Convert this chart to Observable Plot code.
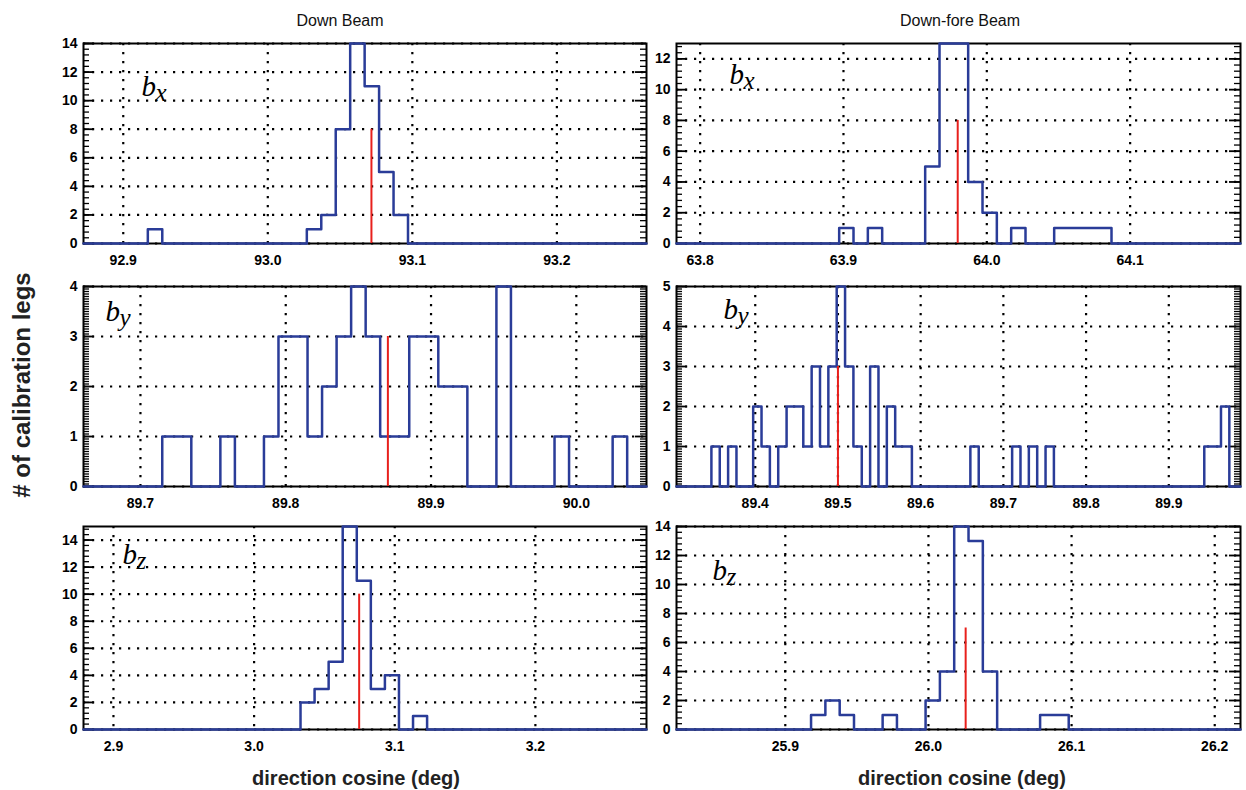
<!DOCTYPE html>
<html><head><meta charset="utf-8">
<script src="https://cdn.jsdelivr.net/npm/d3@7"></script>
<script src="https://cdn.jsdelivr.net/npm/@observablehq/plot@0.6"></script>
<style>
html,body{margin:0;padding:0;background:#fff;overflow:hidden;}
#chart{position:relative;width:1246px;height:790px;overflow:hidden;background:#fff;}
#chart svg.panel{position:absolute;}
#overlay{position:absolute;left:0;top:0;}
</style></head><body><div id="chart"></div>
<script>
// ---------- data (panel order: Down bx, Down-fore bx, Down by, Down-fore by, Down bz, Down-fore bz)
const beamTitles = ["Down Beam", "Down-fore Beam"];
const componentNames = ["x", "y", "z"];
const axisTitleX = "direction cosine (deg)";
const axisTitleY = "# of calibration legs";

const xRanges = [[92.8725, 93.262], [63.7835, 64.177], [89.6608, 90.0483], [89.3048, 89.9867], [2.8787, 3.2790], [25.824, 26.218]];
const xTickValues = [
  [92.9, 93.0, 93.1, 93.2],
  [63.8, 63.9, 64.0, 64.1],
  [89.7, 89.8, 89.9, 90.0],
  [89.4, 89.5, 89.6, 89.7, 89.8, 89.9],
  [2.9, 3.0, 3.1, 3.2],
  [25.9, 26.0, 26.1, 26.2]
];
const yMaxima = [14, 13, 4, 5, 15, 14];
const yMajorSteps = [2, 2, 1, 1, 2, 2];
const yMinorSteps = [0.4, 0.4, 0.05, 0.0625, 0.4, 0.4];

const firstBinEdges = [92.917, 63.897, 89.715, 89.347, 3.033, 25.918];
const binWidths = [0.01, 0.01, 0.01, 0.0101, 0.01, 0.01];

const countsDownX = [1,0,0,0,0,0,0,0,0,0,0,1,2,8,14,11,5,2];
const countsForeX = [1,0,1,0,0,0,5,13,13,4,2,0,1,0,0,1,1,1,1];
const countsDownY = [1,1,0,0,1,0,0,1,3,3,1,2,3,4,3,1,1,3,3,2,2,0,0,4,0,0,0,1,0,0,0,1];
const countsForeY = [1,0,1,0,0,2,1,0,1,2,2,1,3,1,3,5,3,1,0,3,0,2,1,1,
                     0,0,0,0,0,0,0,1,0,0,0,0,1,0,1,0,1,
                     0,0,0,0,0,0,0,0,0,0,0,0,0,0,0,0,0,0,1,1,2];
const countsDownZ = [2,3,5,15,11,3,4,0,1];
const countsForeZ = [1,2,1,0,0,1,0,0,2,4,14,13,4,0,0,0,1,1];
const panelCounts = [countsDownX, countsForeX, countsDownY, countsForeY, countsDownZ, countsForeZ];

const meanPositions = [93.0717, 63.9797, 89.8703, 89.5, 3.0747, 26.026];
const meanHeights = [8, 8, 3, 3, 10, 7];

// ---------- layout / style
const blue = "#2a3c98", red = "#e8201c";
const colLeft = [83, 676], colWidth = [563, 564];
const rowTop = [43, 286, 526], rowHeight = [200, 200, 203];
const M = {left: 44, right: 14, top: 14, bottom: 34};
const labelOffsets = [[58, 52], [53, 40], [22, 34], [47, 32], [39, 37], [36, 53]];

const chart = document.getElementById("chart");

panelCounts.forEach((counts, i) => {
  const col = i % 2, row = Math.floor(i / 2);
  const W = colWidth[col], H = rowHeight[row];
  const dom = xRanges[i];
  const span = dom[1] - dom[0];
  const first = firstBinEdges[i], bw = binWidths[i];
  const step = [{x: dom[0], y: 0}]
    .concat(counts.map((c, k) => ({x: first + k * bw, y: c})))
    .concat([{x: first + counts.length * bw, y: 0}, {x: dom[1], y: 0}]);
  const yMajor = d3.range(0, yMaxima[i] + 1e-9, yMajorSteps[i]);
  const yMinor = d3.range(0, yMaxima[i] + 1e-9, yMinorSteps[i]);
  const [ldx, ldy] = labelOffsets[i];
  const tickLen = (px) => span * px / W;
  const svg = Plot.plot({
    width: W + M.left + M.right,
    height: H + M.top + M.bottom,
    marginLeft: M.left, marginRight: M.right, marginTop: M.top, marginBottom: M.bottom,
    style: {fontFamily: "'Liberation Sans', Arial, sans-serif", fontSize: "14px", fontWeight: "bold", color: "#000", background: "transparent", overflow: "visible"},
    x: {domain: dom, label: null},
    y: {domain: [0, yMaxima[i]], label: null},
    marks: [
      Plot.ruleX(xTickValues[i], {stroke: "#000", strokeWidth: 2.2, strokeDasharray: "2.2,6.8"}),
      Plot.ruleY(yMajor, {stroke: "#000", strokeWidth: 2.2, strokeDasharray: "2.2,6.8"}),
      Plot.ruleY(yMinor, {y: d => d, x1: dom[0], x2: dom[0] + tickLen(6), stroke: "#000", strokeWidth: 1.3}),
      Plot.ruleY(yMinor, {y: d => d, x1: dom[1] - tickLen(6), x2: dom[1], stroke: "#000", strokeWidth: 1.3}),
      Plot.ruleY(yMajor, {y: d => d, x1: dom[0], x2: dom[0] + tickLen(11), stroke: "#000", strokeWidth: 1.8}),
      Plot.ruleY(yMajor, {y: d => d, x1: dom[1] - tickLen(11), x2: dom[1], stroke: "#000", strokeWidth: 1.8}),
      Plot.frame({stroke: "#000", strokeWidth: 2}),
      Plot.line(step, {x: "x", y: "y", curve: "step-after", stroke: blue, strokeWidth: 2.5}),
      Plot.ruleX([meanPositions[i]], {x: d => d, y1: 0, y2: meanHeights[i], stroke: red, strokeWidth: 2}),
      Plot.axisX({ticks: xTickValues[i], tickSize: 0, tickPadding: 12, tickFormat: d3.format(".1f"), label: null}),
      Plot.axisY({ticks: yMajor, tickSize: 0, tickPadding: 6, tickFormat: d3.format("d"), label: null}),
      Plot.text(["b"], {text: d => d, frameAnchor: "top-left", dx: ldx, dy: ldy, textAnchor: "start", lineAnchor: "bottom",
        fontFamily: "'Liberation Serif', 'Times New Roman', serif", fontStyle: "italic", fontWeight: "normal", fontSize: 29}),
      Plot.text([componentNames[row]], {text: d => d, frameAnchor: "top-left", dx: ldx + 14, dy: ldy + 5, textAnchor: "start", lineAnchor: "bottom",
        fontFamily: "'Liberation Serif', 'Times New Roman', serif", fontStyle: "italic", fontWeight: "normal", fontSize: 25})
    ]
  });
  svg.classList.add("panel");
  svg.style.left = (colLeft[col] - M.left) + "px";
  svg.style.top = (rowTop[row] - M.top) + "px";
  chart.appendChild(svg);
});

// ---------- titles and axis titles
const ov = d3.create("svg").attr("id", "overlay").attr("width", 1246).attr("height", 790);
ov.selectAll("text.title").data(beamTitles).join("text")
  .attr("x", (d, j) => j === 0 ? 340 : 960).attr("y", 26)
  .attr("text-anchor", "middle")
  .attr("font-family", "'Liberation Sans', Arial, sans-serif").attr("font-size", 16)
  .attr("fill", "#111").text(d => d);
ov.selectAll("text.xt").data([0, 1]).join("text")
  .attr("x", j => j === 0 ? 356 : 962).attr("y", 785)
  .attr("text-anchor", "middle")
  .attr("font-family", "'Liberation Sans', Arial, sans-serif").attr("font-weight", "bold").attr("font-size", 20)
  .attr("fill", "#222").text(axisTitleX);
ov.append("text")
  .attr("transform", "translate(30,385) rotate(-90)")
  .attr("text-anchor", "middle")
  .attr("font-family", "'Liberation Sans', Arial, sans-serif").attr("font-weight", "bold").attr("font-size", 24)
  .attr("fill", "#222").text(axisTitleY);
chart.appendChild(ov.node());
</script></body></html>
